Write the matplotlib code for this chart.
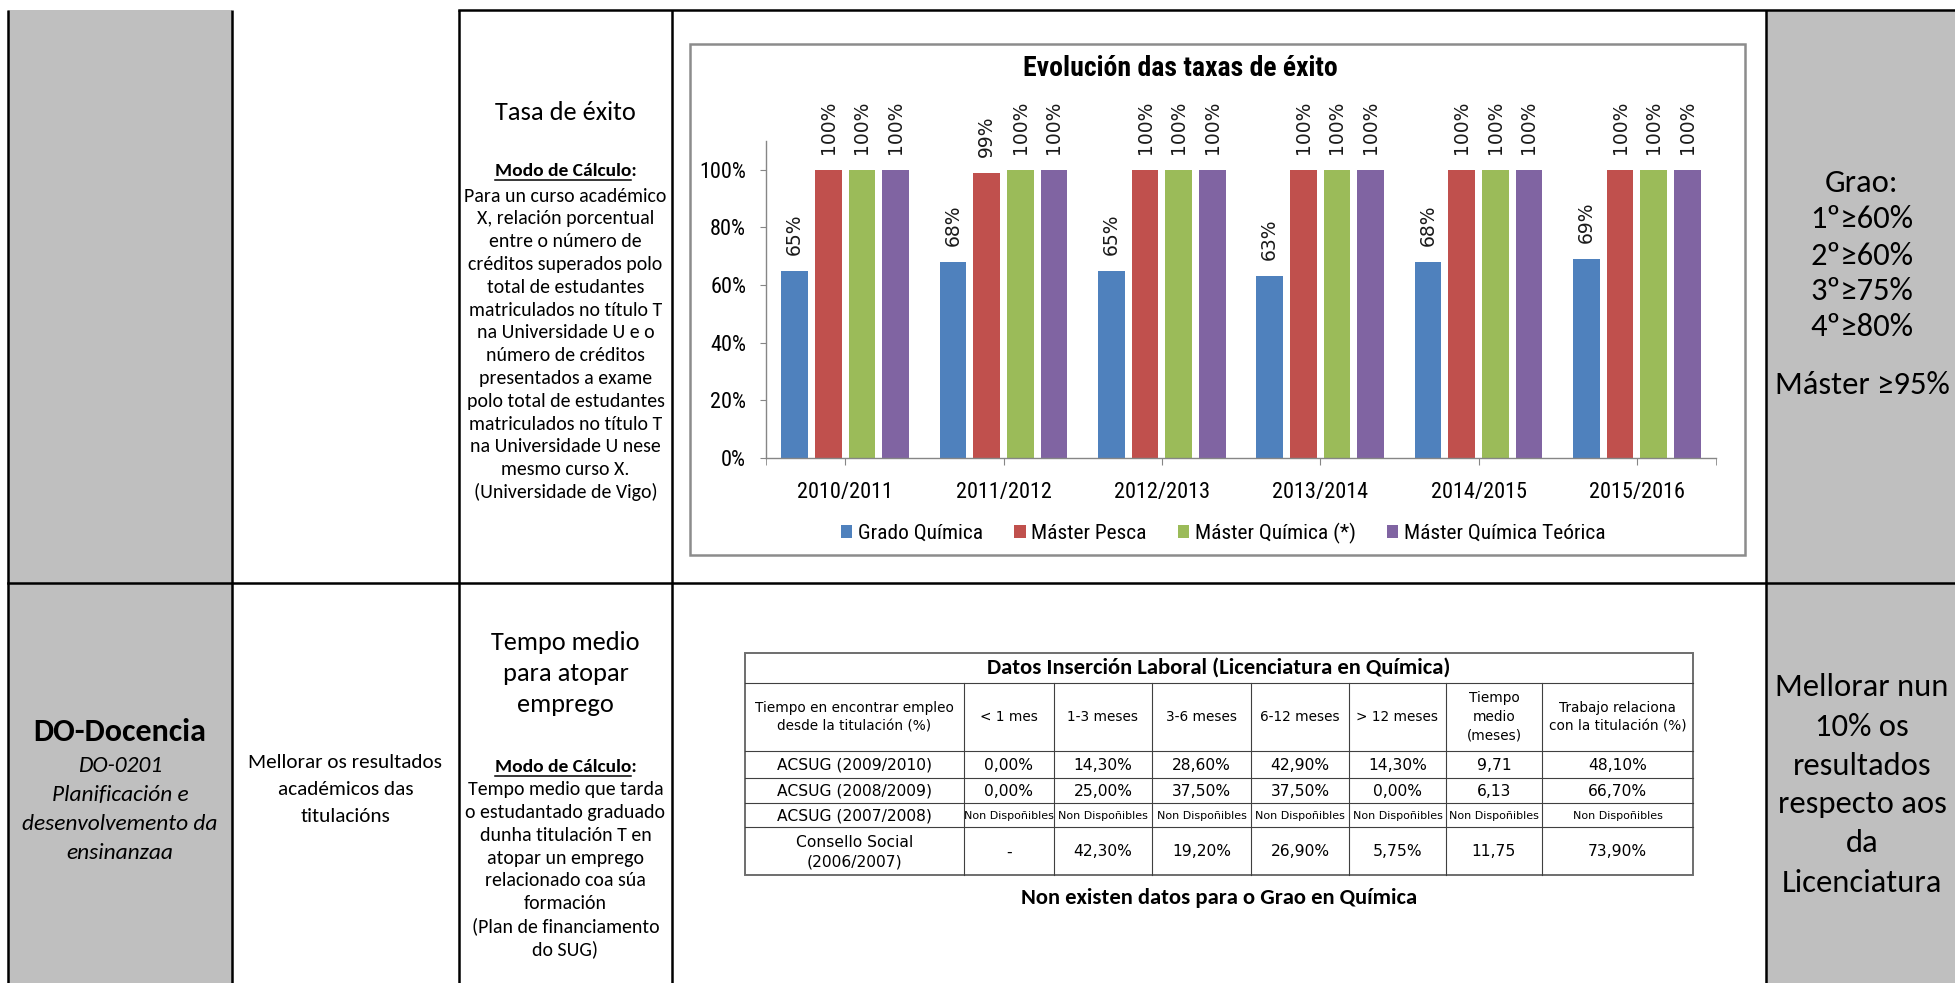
import matplotlib
matplotlib.use('Agg')
import matplotlib.pyplot as plt
from matplotlib import font_manager
from matplotlib.patches import Rectangle, Patch
import numpy as np

# ---------------- data ----------------
years = ['2010/2011', '2011/2012', '2012/2013', '2013/2014', '2014/2015', '2015/2016']
grado_quimica = [65, 68, 65, 63, 68, 69]
master_pesca = [100, 99, 100, 100, 100, 100]
master_quimica = [100, 100, 100, 100, 100, 100]
master_teorica = [100, 100, 100, 100, 100, 100]
series_labels = ['Grado Química', 'Máster Pesca', 'Máster Química (*)', 'Máster Química Teórica']
series_colors = ['#4F81BD', '#C0504D', '#9BBB59', '#8064A2']
chart_title = 'Evolución das taxas de éxito'
y_ticks = [0, 20, 40, 60, 80, 100]

table_title = 'Datos Inserción Laboral (Licenciatura en Química)'
table_header = ['Tiempo en encontrar empleo\ndesde la titulación (%)', '< 1 mes', '1-3 meses',
                '3-6 meses', '6-12 meses', '> 12 meses', 'Tiempo\nmedio\n(meses)',
                'Trabajo relaciona\ncon la titulación (%)']
table_rows = [
    ['ACSUG (2009/2010)', '0,00%', '14,30%', '28,60%', '42,90%', '14,30%', '9,71', '48,10%'],
    ['ACSUG (2008/2009)', '0,00%', '25,00%', '37,50%', '37,50%', '0,00%', '6,13', '66,70%'],
    ['ACSUG (2007/2008)'] + ['Non Dispoñibles'] * 7,
    ['Consello Social\n(2006/2007)', '-', '42,30%', '19,20%', '26,90%', '5,75%', '11,75', '73,90%'],
]
table_note = 'Non existen datos para o Grao en Química'

row1_title = 'Tasa de éxito'
row1_body = ['Para un curso académico', 'X, relación porcentual', 'entre o número de',
             'créditos superados polo', 'total de estudantes', 'matriculados no título T',
             'na Universidade U e o', 'número de créditos', 'presentados a exame',
             'polo total de estudantes', 'matriculados no título T', 'na Universidade U nese',
             'mesmo curso X.', '(Universidade de Vigo)']
row1_goal = ['Grao:', '1º≥60%', '2º≥60%', '3º≥75%', '4º≥80%', 'Máster ≥95%']

row2_area = 'DO-Docencia'
row2_area_sub = ['DO-0201', 'Planificación e', 'desenvolvemento da', 'ensinanzaa']
row2_objective = ['Mellorar os resultados', 'académicos das', 'titulacións']
row2_title = ['Tempo medio', 'para atopar', 'emprego']
row2_body = ['Tempo medio que tarda', 'o estudantado graduado', 'dunha titulación T en',
             'atopar un emprego', 'relacionado coa súa', 'formación',
             '(Plan de financiamento', 'do SUG)']
row2_goal = ['Mellorar nun', '10% os', 'resultados', 'respecto aos', 'da', 'Licenciatura']
modo_label = 'Modo de Cálculo'

# ---------------- fonts ----------------
names = {f.name for f in font_manager.fontManager.ttflist}
def pick(*cands):
    for n in cands:
        if n in names:
            return n
    return 'DejaVu Sans'
BODY = pick('Carlito', 'Lato', 'Open Sans')
COND = pick('Liberation Sans Narrow', 'Roboto Condensed', 'Lato')
GOTH = 'DejaVu Sans'
BODYF = [BODY, 'DejaVu Sans']
CONDF = [COND, 'DejaVu Sans']

W, H = 1955, 983
fig = plt.figure(figsize=(W / 100, H / 100), dpi=100)
fig.patch.set_facecolor('white')
bg = fig.add_axes([0, 0, 1, 1])
bg.set_xlim(0, W)
bg.set_ylim(H, 0)
bg.axis('off')

GRAY = '#BFBFBF'
# ---------------- outer table ----------------
xL, x1, x2, x3, x4 = 8, 232, 459, 672, 1766
yT, yM = 10, 583
bg.add_patch(Rectangle((xL, yT), x1 - xL, H - yT, facecolor=GRAY, edgecolor='none'))
bg.add_patch(Rectangle((x4, yT), W - x4 + 5, H - yT, facecolor=GRAY, edgecolor='none'))
LW = 1.8
for x in [xL, x1, x2, x3, x4]:
    bg.plot([x, x], [yT, H + 5], color='black', lw=LW, solid_capstyle='butt')
bg.plot([x2, W + 5], [yT, yT], color='black', lw=LW)
bg.plot([xL, W + 5], [yM, yM], color='black', lw=LW)

c1 = (xL + x1) / 2
c2 = (x1 + x2) / 2
c3 = (x2 + x3) / 2
c4 = 1862

BODY_FS = 14.3
MODO_FS = 14.0
modo_texts = []
def modo(cx, y):
    t = bg.text(cx, y, modo_label + ':', ha='center', va='center', fontsize=MODO_FS,
                family=BODYF, fontweight='bold')
    modo_texts.append((t, y))

# row 1 column 3
bg.text(c3, 112, row1_title, ha='center', va='center', fontsize=19, family=BODYF)
modo(c3, 171)
for i, s in enumerate(row1_body):
    bg.text(c3, 196 + i * 22.8, s, ha='center', va='center', fontsize=BODY_FS, family=BODYF)
# row 1 goals
goal_y1 = [183, 219, 256, 291, 327, 385]
for s, y in zip(row1_goal, goal_y1):
    bg.text(c4, y, s, ha='center', va='center', fontsize=23.5, family=BODYF)

# row 2
bg.text(c1, 732, row2_area, ha='center', va='center', fontsize=23, family=BODYF,
        fontweight='bold')
for i, s in enumerate(row2_area_sub):
    bg.text(c1, 766 + i * 29, s, ha='center', va='center', fontsize=16.8, family=BODYF,
            style='italic')
for i, s in enumerate(row2_objective):
    bg.text(c2, 763 + i * 26.5, s, ha='center', va='center', fontsize=15.3, family=BODYF)
for i, s in enumerate(row2_title):
    bg.text(c3, 642 + i * 31.5, s, ha='center', va='center', fontsize=19, family=BODYF)
modo(c3, 767)
for i, s in enumerate(row2_body):
    bg.text(c3, 790 + i * 22.7, s, ha='center', va='center', fontsize=BODY_FS, family=BODYF)
goal_y2 = [687, 727, 766, 804, 843, 883]
for s, y in zip(row2_goal, goal_y2):
    bg.text(c4, y, s, ha='center', va='center', fontsize=23.5, family=BODYF)

# ---------------- chart frame ----------------
bg.add_patch(Rectangle((690, 44), 1055, 511, facecolor='white', edgecolor='#8C8C8C', lw=1.8))
bg.text(1180, 69, chart_title, ha='center', va='center', fontsize=20, family=CONDF,
        fontweight='bold')

ax = fig.add_axes([766 / W, 1 - 458 / H, 950 / W, 317 / H])
ax.set_facecolor('none')
ax.set_xlim(-0.5, 5.5)
ax.set_ylim(0, 110)
series = [grado_quimica, master_pesca, master_quimica, master_teorica]
xs = np.arange(len(years))
pitch, bw = 0.2125, 0.17
for i, (vals, col) in enumerate(zip(series, series_colors)):
    pos = xs + (i - 1.5) * pitch
    ax.bar(pos, vals, width=bw, color=col, edgecolor='none', zorder=2)
    for xp, v in zip(pos, vals):
        ax.annotate(f'{v}%', (xp, v), xytext=(0, 11.5), textcoords='offset points',
                    rotation=90, ha='center', va='bottom', fontsize=13.5, family=GOTH,
                    color='#1a1a1a')
SP = '#868686'
for s in ['top', 'right']:
    ax.spines[s].set_visible(False)
for s in ['left', 'bottom']:
    ax.spines[s].set_color(SP)
    ax.spines[s].set_linewidth(1.0)
ax.set_yticks(y_ticks)
ax.set_yticklabels([f'{v}%' for v in y_ticks], fontsize=16, family=CONDF)
ax.set_xticks(xs)
ax.set_xticklabels(years, fontsize=16, family=CONDF)
ax.set_xticks([-0.5, 5.5], minor=True)
ax.tick_params(axis='y', length=4.3, color=SP, pad=10, direction='out')
ax.tick_params(axis='x', which='both', length=5, color=SP, pad=12.6, direction='out')

handles = [Patch(facecolor=c, edgecolor='none') for c in series_colors]
fig.legend(handles, series_labels, ncol=4, loc='center', bbox_to_anchor=(1223 / W, 1 - 533 / H),
           frameon=False, handlelength=0.55, handleheight=0.55, handletextpad=0.25,
           columnspacing=1.45, prop={'family': CONDF, 'size': 15.4})

# ---------------- data table ----------------
col_x = [745, 964, 1054, 1152, 1251, 1349, 1446, 1542, 1693]
row_y = [653, 683, 751, 778, 803, 827, 875]
LC = '#404040'
for x in col_x[1:-1]:
    bg.plot([x, x], [row_y[1], row_y[-1]], color=LC, lw=0.8)
for y in row_y[1:-1]:
    bg.plot([col_x[0], col_x[-1]], [y, y], color=LC, lw=0.8)
bg.add_patch(Rectangle((col_x[0], row_y[0]), col_x[-1] - col_x[0], row_y[-1] - row_y[0],
                       facecolor='none', edgecolor='#6E6E6E', lw=1.4))
tcx = (col_x[0] + col_x[-1]) / 2
bg.text(tcx, (row_y[0] + row_y[1]) / 2, table_title, ha='center', va='center', fontsize=16.3,
        family=BODYF, fontweight='bold')
for j, s in enumerate(table_header):
    cx = (col_x[j] + col_x[j + 1]) / 2
    bg.text(cx, (row_y[1] + row_y[2]) / 2, s, ha='center', va='center', fontsize=9.8,
            family=GOTH, linespacing=1.45)
for i, row in enumerate(table_rows):
    cy = (row_y[2 + i] + row_y[3 + i]) / 2
    for j, s in enumerate(row):
        cx = (col_x[j] + col_x[j + 1]) / 2
        fs = 8.0 if s == 'Non Dispoñibles' else 11.2
        bg.text(cx, cy + 1, s, ha='center', va='center', fontsize=fs, family=GOTH,
                linespacing=1.35)
bg.text(tcx, 898, table_note, ha='center', va='center', fontsize=16.3, family=BODYF,
        fontweight='bold')

# underline "Modo de Cálculo"
fig.canvas.draw()
r = fig.canvas.get_renderer()
for t, y in modo_texts:
    bb = t.get_window_extent(r)
    tmp = bg.text(0, 0, modo_label, fontsize=MODO_FS, family=BODYF, fontweight='bold')
    wpre = tmp.get_window_extent(r).width
    tmp.remove()
    bg.plot([bb.x0, bb.x0 + wpre], [y + 8.5, y + 8.5], color='black', lw=1.1)

fig.savefig('out.png', dpi=100)
